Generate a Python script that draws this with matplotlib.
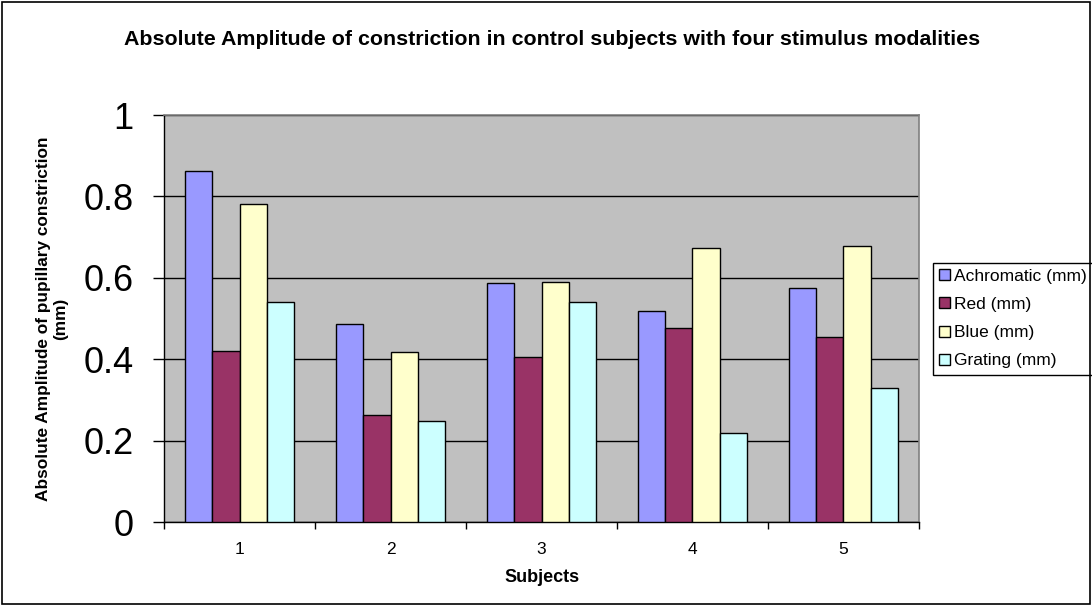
import matplotlib
matplotlib.use("Agg")
import matplotlib.pyplot as plt
import numpy as np
from matplotlib.patches import Rectangle

plt.rcParams['font.family'] = ['Liberation Sans', 'DejaVu Sans']

# 数据
subjects = ['1', '2', '3', '4', '5']
series_names = ['Achromatic (mm)', 'Red (mm)', 'Blue (mm)', 'Grating (mm)']
achromatic = [0.863, 0.488, 0.588, 0.519, 0.575]
red = [0.421, 0.263, 0.406, 0.478, 0.455]
blue = [0.781, 0.418, 0.591, 0.674, 0.678]
grating = [0.542, 0.249, 0.542, 0.220, 0.329]
colors = ['#9999FF', '#993366', '#FFFFCC', '#CCFFFF']

fig = plt.figure(figsize=(10.92, 6.06), dpi=100)
ax = fig.add_axes([0.1505, 0.1381, 0.6908, 0.6721])
ax.set_facecolor('#C0C0C0')

x = np.arange(1, len(subjects) + 1)
w = 0.181
all_series = [achromatic, red, blue, grating]
for i, (vals, name, c) in enumerate(zip(all_series, series_names, colors)):
    ax.bar(x + (i - 1.5) * w, vals, width=w, color=c, edgecolor='black',
           linewidth=1.0, label=name, zorder=3)

ax.set_xlim(0.5, 5.5)
ax.set_ylim(0, 1)
ax.set_yticks([0, 0.2, 0.4, 0.6, 0.8, 1.0])
ax.set_yticklabels(['0', '0.2', '0.4', '0.6', '0.8', '1'], fontsize=26)
ax.yaxis.grid(True, color='black', linewidth=1.0, zorder=1)
ax.tick_params(axis='y', direction='out', length=8, width=1, pad=14)

# x轴：分组边界画刻度，中心放标签
ax.set_xticks(np.arange(0.5, 6.0, 1.0))
ax.set_xticklabels([''] * 6)
ax.set_xticks(x, minor=True)
ax.set_xticklabels(subjects, minor=True, fontsize=12.5)
ax.tick_params(axis='x', which='major', direction='out', length=5, width=1)
ax.tick_params(axis='x', which='minor', length=0, pad=14)

for s in ['top', 'right']:
    ax.spines[s].set_color('#808080')
    ax.spines[s].set_linewidth(1.2)
for s in ['left', 'bottom']:
    ax.spines[s].set_color('black')
    ax.spines[s].set_linewidth(1.0)

ax.set_xlabel('Subjects', fontsize=13, fontweight='bold', labelpad=9)
ax.set_ylabel('Absolute Amplitude of pupillary constriction\n(mm)',
              fontsize=12.4, fontweight='bold', labelpad=11)

fig.text(0.506, 0.934, 'Absolute Amplitude of constriction in control subjects with four stimulus modalities',
         ha='center', va='center', fontsize=15.4, fontweight='bold')

leg = ax.legend(loc='center left', bbox_to_anchor=(1.019, 0.50), fontsize=12.5,
                frameon=True, fancybox=False, edgecolor='black', framealpha=1,
                handlelength=0.6, handleheight=0.6, handletextpad=0.25,
                labelspacing=0.76, borderpad=0.35, borderaxespad=0)
leg.get_frame().set_linewidth(1.0)

# 外边框
fig.patches.append(Rectangle((0.002, 0.003), 0.996, 0.994, transform=fig.transFigure,
                             fill=False, edgecolor='black', linewidth=1.2))

fig.savefig('out.png', dpi=100)
